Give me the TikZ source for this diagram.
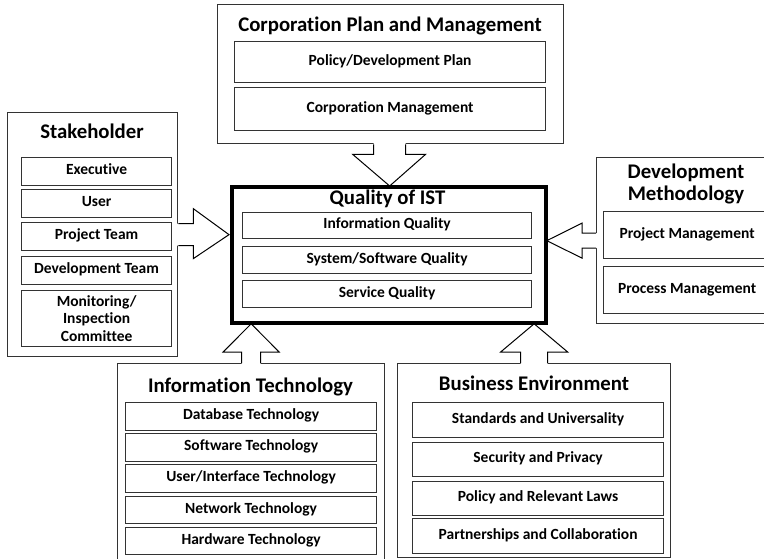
\documentclass[tikz,border=0pt]{standalone}
\usepackage{fontspec}
\setmainfont{Carlito}[Ligatures=NoCommon]
\usetikzlibrary{calc}

\tikzset{
  outerbox/.style={draw=black!80, line width=1.3pt, fill=white, anchor=north west, inner sep=0pt},
  innerbox/.style={draw=black!80, line width=1.2pt, anchor=north west, inner sep=0pt,
                   font=\fontsize{15.5}{17.5}\selectfont\bfseries, align=center,
                   text height=0.62em, text depth=0pt},
  corebox/.style={draw=black, line width=2.8pt, fill=white, anchor=north west, inner sep=0pt},
  boxtitle/.style={anchor=base, inner sep=0pt, font=\fontsize{20.8}{23}\selectfont\bfseries},
  arrowfill/.style={fill=white},
  arrowedge/.style={draw=black, line width=1pt, line join=miter},
}

\begin{document}
\begin{tikzpicture}[x=1pt, y=-1pt]
\useasboundingbox (0,0) rectangle (764,559);
\clip (0,0) rectangle (764,559);
\fill[white] (0,0) rectangle (764,559);

% ---------- Corporation Plan and Management ----------
\node[outerbox, minimum width=346pt, minimum height=139pt] (corp) at (217,4) {};
\node[boxtitle] (corpT) at (390,32) {Corporation Plan and Management};
\node[innerbox, minimum width=311pt, minimum height=41pt] (corp1) at (234,41) {Policy/Development Plan};
\node[innerbox, minimum width=311pt, minimum height=43pt] (corp2) at (234,87) {Corporation Management};

% ---------- Stakeholder ----------
\node[outerbox, minimum width=170pt, minimum height=244pt] (stake) at (7,112) {};
\node[boxtitle] (stakeT) at (92,139) {Stakeholder};
\node[innerbox, minimum width=150pt, minimum height=28pt] (st1) at (21,157) {Executive};
\node[innerbox, minimum width=150pt, minimum height=28pt] (st2) at (21,189) {User};
\node[innerbox, minimum width=150pt, minimum height=28pt] (st3) at (21,222) {Project Team};
\node[innerbox, minimum width=150pt, minimum height=28pt] (st4) at (21,256) {Development Team};
\node[innerbox, minimum width=150pt, minimum height=56pt, text height=, text depth=] (st5) at (21,290)
  {\fontsize{15.5}{17.5}\selectfont\bfseries Monitoring/\\Inspection\\Committee};

% ---------- Development Methodology ----------
\node[outerbox, minimum width=180pt, minimum height=166pt] (devm) at (596,157) {};
\node[boxtitle] (devmT1) at (686,179) {Development};
\node[boxtitle] (devmT2) at (686,201) {Methodology};
\node[innerbox, minimum width=167pt, minimum height=47pt] (dm1) at (603,211) {Project Management};
\node[innerbox, minimum width=167pt, minimum height=47pt] (dm2) at (603,266) {Process Management};

% ---------- Information Technology ----------
\node[outerbox, minimum width=267pt, minimum height=215pt] (it) at (117,363) {};
\node[boxtitle] (itT) at (250.5,392) {Information Technology};
\node[innerbox, minimum width=251pt, minimum height=28pt] (it1) at (125,402) {Database Technology};
\node[innerbox, minimum width=251pt, minimum height=28pt] (it2) at (125,433) {Software Technology};
\node[innerbox, minimum width=251pt, minimum height=28pt] (it3) at (125,464) {User/Interface Technology};
\node[innerbox, minimum width=251pt, minimum height=27pt] (it4) at (125,496) {Network Technology};
\node[innerbox, minimum width=251pt, minimum height=27pt] (it5) at (125,527) {Hardware Technology};

% ---------- Business Environment ----------
\node[outerbox, minimum width=273pt, minimum height=194pt] (be) at (397,363) {};
\node[boxtitle] (beT) at (534,390) {Business Environment};
\node[innerbox, minimum width=251pt, minimum height=35pt] (be1) at (412,402) {Standards and Universality};
\node[innerbox, minimum width=251pt, minimum height=34pt] (be2) at (412,442) {Security and Privacy};
\node[innerbox, minimum width=251pt, minimum height=34pt] (be3) at (412,481) {Policy and Relevant Laws};
\node[innerbox, minimum width=251pt, minimum height=35pt] (be4) at (412,518) {Partnerships and Collaboration};

% ---------- Quality of IST ----------
\node[corebox, minimum width=313pt, minimum height=135pt] (qual) at (231,186) {};
\node[boxtitle] (qualT) at (387.5,205) {Quality of IST};
\node[innerbox, minimum width=289pt, minimum height=26pt] (q1) at (242,212) {Information Quality};
\node[innerbox, minimum width=289pt, minimum height=27pt] (q2) at (242,246) {System/Software Quality};
\node[innerbox, minimum width=289pt, minimum height=27pt] (q3) at (242,280) {Service Quality};

% ---------- Block arrows into the core box ----------
% corporation -> quality (down)
\coordinate (a0) at ($(corp.south)+(-1,0)$);
\coordinate (a1) at (a0 |- qual.north);
\fill[arrowfill] ($(a0)+(-16,-3)$) -- ($(a0)+(-16,10)$) -- ($(a0)+(-37,10)$) -- (a1)
  -- ($(a0)+(36,10)$) -- ($(a0)+(16,10)$) -- ($(a0)+(16,-3)$) -- cycle;
\draw[arrowedge] ($(a0)+(-16,0)$) -- ($(a0)+(-16,10)$) -- ($(a0)+(-37,10)$) -- (a1)
  -- ($(a0)+(36,10)$) -- ($(a0)+(16,10)$) -- ($(a0)+(16,0)$);

% stakeholder -> quality (right)
\coordinate (b0) at (stake.east);
\coordinate (b1) at (qual.west |- b0);
\fill[arrowfill] ($(b0)+(-3,-11)$) -- ($(b0)+(15,-11)$) -- ($(b0)+(15,-26)$) -- ($(b1)+(-2,0)$)
  -- ($(b0)+(15,24)$) -- ($(b0)+(15,11)$) -- ($(b0)+(-3,11)$) -- cycle;
\draw[arrowedge] ($(b0)+(0,-11)$) -- ($(b0)+(15,-11)$) -- ($(b0)+(15,-26)$) -- ($(b1)+(-2,0)$)
  -- ($(b0)+(15,24)$) -- ($(b0)+(15,11)$) -- ($(b0)+(0,11)$);

% development methodology -> quality (left)
\coordinate (c0) at (devm.west);
\coordinate (c1) at (qual.east |- c0);
\fill[arrowfill] ($(c0)+(3,-7.5)$) -- ($(c0)+(-14,-7.5)$) -- ($(c0)+(-14,-17.5)$) -- (c1)
  -- ($(c0)+(-14,17.5)$) -- ($(c0)+(-14,7.5)$) -- ($(c0)+(3,7.5)$) -- cycle;
\draw[arrowedge] ($(c0)+(0,-7.5)$) -- ($(c0)+(-14,-7.5)$) -- ($(c0)+(-14,-17.5)$) -- (c1)
  -- ($(c0)+(-14,17.5)$) -- ($(c0)+(-14,7.5)$) -- ($(c0)+(0,7.5)$);

% information technology -> quality (up)
\coordinate (d0) at (it.north);
\coordinate (d1) at (d0 |- qual.south);
\fill[arrowfill] ($(d0)+(-9.5,3)$) -- ($(d0)+(-9.5,-11)$) -- ($(d0)+(-28,-11)$) -- (d1)
  -- ($(d0)+(28,-11)$) -- ($(d0)+(9.5,-11)$) -- ($(d0)+(9.5,3)$) -- cycle;
\draw[arrowedge] ($(d0)+(-9.5,0)$) -- ($(d0)+(-9.5,-11)$) -- ($(d0)+(-28,-11)$) -- (d1)
  -- ($(d0)+(28,-11)$) -- ($(d0)+(9.5,-11)$) -- ($(d0)+(9.5,0)$);

% business environment -> quality (up)
\coordinate (e0) at (be.north);
\coordinate (e1) at (e0 |- qual.south);
\fill[arrowfill] ($(e0)+(-13.5,3)$) -- ($(e0)+(-13.5,-11)$) -- ($(e0)+(-33.5,-11)$) -- (e1)
  -- ($(e0)+(33.5,-11)$) -- ($(e0)+(13.5,-11)$) -- ($(e0)+(13.5,3)$) -- cycle;
\draw[arrowedge] ($(e0)+(-13.5,0)$) -- ($(e0)+(-13.5,-11)$) -- ($(e0)+(-33.5,-11)$) -- (e1)
  -- ($(e0)+(33.5,-11)$) -- ($(e0)+(13.5,-11)$) -- ($(e0)+(13.5,0)$);

% redraw the core box border over the arrow tips
\draw[line width=2.8pt] (qual.north west) rectangle (qual.south east);
\end{tikzpicture}
\end{document}
